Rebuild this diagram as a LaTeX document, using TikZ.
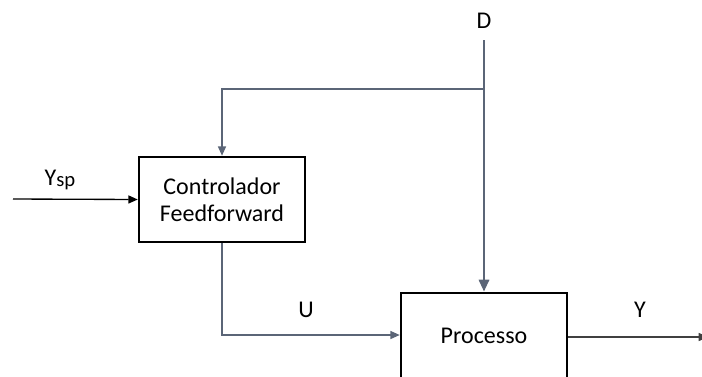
\documentclass[tikz,border=0pt]{standalone}
\usepackage{fontspec}
\setmainfont{Carlito}
\usetikzlibrary{arrows.meta}
\definecolor{conn}{HTML}{5B6577}
\tikzset{
  blk/.style={draw=black, line width=1.9pt, rectangle, inner sep=0pt, font=\fontsize{18}{21.5}\selectfont, align=center},
  lbl/.style={font=\fontsize{18}{21.5}\selectfont, inner sep=0pt},
  thin/.style={draw=conn, line width=1.1pt},
  thick/.style={draw=conn, line width=2.2pt},
  tip/.style={-{Triangle[length=7pt,width=6pt]}},
}
\begin{document}
\begin{tikzpicture}[x=0.75pt,y=-0.75pt]
\useasboundingbox (0,0) rectangle (702,376);
\node[blk, minimum width=124.5pt, minimum height=63.75pt] (ctrl) at (222,199.5) {Controlador\\[-1pt]Feedforward};
\node[blk, minimum width=124.5pt, minimum height=64.5pt] (proc) at (484,336) {Processo};
\coordinate (ysps) at (13,199);
\coordinate (dtop) at (484,40);
\coordinate (br) at (484,89);
\coordinate (brl) at (222,89);
\coordinate (ucorner) at (222,335);
\coordinate (yend) at (708,337);
\node[lbl] (d) at (484,21) {D};
\node[lbl] (ysp) at (60,180) {Y\raisebox{-1pt}{\fontsize{15.5}{18}\selectfont sp}};
\node[lbl] (u) at (306,310) {U};
\node[lbl] (y) at (640,310) {Y};
\draw[black, line width=1pt, tip] (ysps) -- (ctrl.west);
\draw[thick, -{Triangle[length=9pt,width=7.5pt]}] (dtop) -- (proc.north);
\draw[thin, tip] (br) -- (brl) -- (ctrl.north);
\draw[thin, tip] (ctrl.south) -- (ucorner) -- (proc.west |- ucorner);
\draw[draw=black!75, line width=1.1pt, tip] (proc.east |- yend) -- (yend);
\end{tikzpicture}
\end{document}
